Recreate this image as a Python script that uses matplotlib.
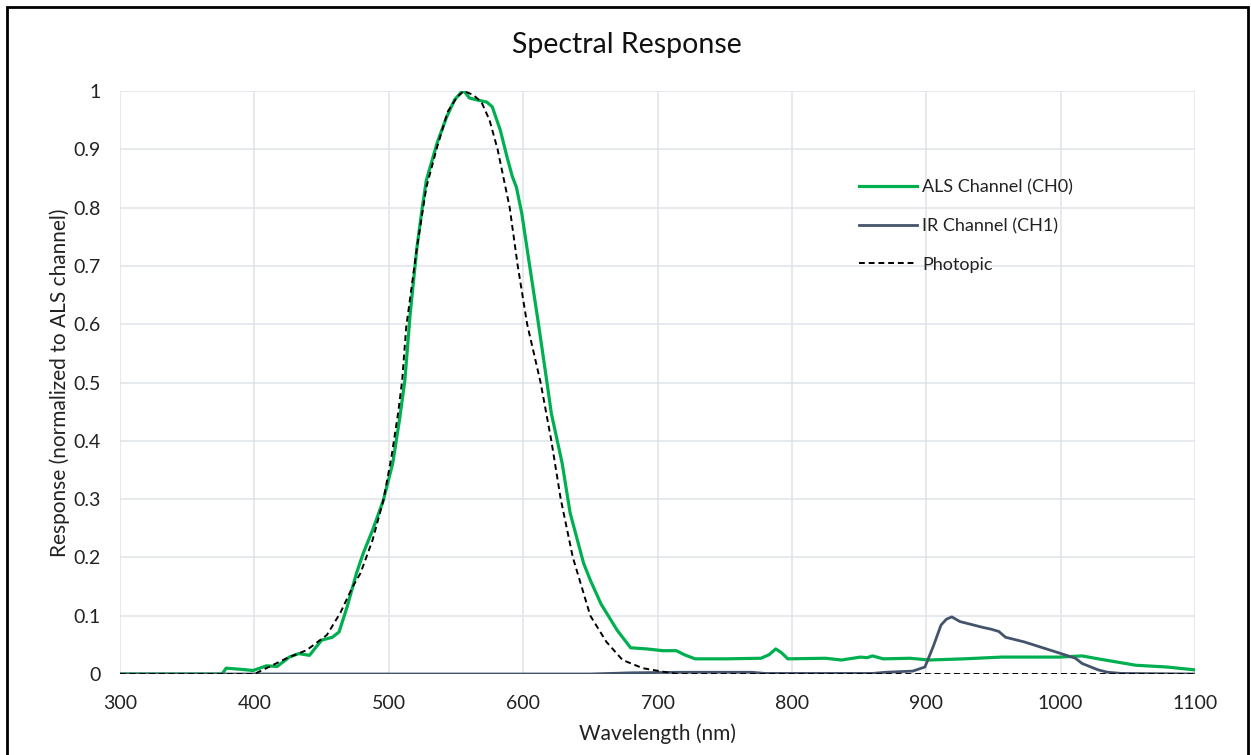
import matplotlib
matplotlib.use("Agg")
import matplotlib.pyplot as plt
from matplotlib.patches import Rectangle
from matplotlib.ticker import FuncFormatter

plt.rcParams['font.family'] = ['Lato', 'DejaVu Sans']

# ---- data ----
als_nm = [300, 376, 379, 390, 399, 409, 417, 426, 433, 441, 450, 458, 463, 469, 476, 481,
          488, 496, 503, 508, 512, 516, 521, 525, 528, 536, 543, 549, 554, 556, 560, 565,
          573, 577, 583, 588, 592, 595, 599, 605, 611, 617, 621, 629, 635, 645, 650, 658,
          670, 680, 692, 704, 714, 720, 728, 751, 777, 783, 788, 792, 797, 825, 837, 851,
          856, 860, 868, 888, 902, 928, 956, 999, 1016, 1028, 1056, 1079, 1100]
als_val = [0, 0, 0.010, 0.008, 0.006, 0.014, 0.013, 0.029, 0.035, 0.032, 0.058, 0.063, 0.072,
           0.115, 0.173, 0.207, 0.247, 0.298, 0.362, 0.436, 0.504, 0.619, 0.732, 0.801, 0.847,
           0.911, 0.955, 0.985, 0.998, 1.0, 0.988, 0.985, 0.981, 0.973, 0.933, 0.887, 0.853,
           0.835, 0.79, 0.698, 0.607, 0.512, 0.447, 0.362, 0.276, 0.190, 0.161, 0.120, 0.075,
           0.045, 0.043, 0.040, 0.040, 0.033, 0.026, 0.026, 0.027, 0.033, 0.043, 0.037, 0.026,
           0.027, 0.024, 0.029, 0.028, 0.031, 0.026, 0.027, 0.024, 0.026, 0.029, 0.029, 0.031,
           0.026, 0.015, 0.012, 0.007]

ir_nm = [300, 650, 680, 720, 770, 780, 860, 870, 890, 899, 905, 911, 915, 919, 925, 942,
         948, 954, 959, 973, 988, 999, 1011, 1016, 1028, 1035, 1045, 1100]
ir_val = [0, 0, 0.002, 0.003, 0.003, 0.001, 0.001, 0.003, 0.005, 0.012, 0.046, 0.084, 0.094,
          0.098, 0.090, 0.080, 0.077, 0.073, 0.063, 0.055, 0.044, 0.036, 0.027, 0.018, 0.007,
          0.003, 0.001, 0]

pho_nm = [300, 400, 409, 424, 439, 454, 464, 473, 479, 488, 496, 502, 507, 510, 513, 521,
          528, 536, 544, 551, 556, 563, 569, 575, 581, 590, 596, 603, 613, 621, 628, 637,
          650, 662, 674, 689, 704, 715, 1100]
pho_val = [0, 0, 0.010, 0.027, 0.041, 0.067, 0.105, 0.149, 0.173, 0.230, 0.298, 0.372, 0.448,
           0.504, 0.595, 0.732, 0.835, 0.904, 0.965, 0.99, 1.0, 0.993, 0.981, 0.95, 0.9, 0.8,
           0.7, 0.6, 0.5, 0.4, 0.3, 0.2, 0.1, 0.055, 0.024, 0.010, 0.004, 0, 0]

x_ticks = [300, 400, 500, 600, 700, 800, 900, 1000, 1100]
y_ticks = [0, 0.1, 0.2, 0.3, 0.4, 0.5, 0.6, 0.7, 0.8, 0.9, 1]

series_labels = ["ALS Channel (CH0)", "IR Channel (CH1)", "Photopic"]

# ---- figure ----
W, H = 1251, 755
fig = plt.figure(figsize=(W / 100, H / 100), dpi=100)
ax = fig.add_axes([120 / W, 1 - 674 / H, (1195 - 120) / W, (674 - 91) / H])

ax.plot(als_nm, als_val, color='#00B050', lw=2.3, label=series_labels[0], zorder=3)
ax.plot(ir_nm, ir_val, color='#44546A', lw=2.0, label=series_labels[1], zorder=4)
ax.plot(pho_nm, pho_val, color='black', lw=1.4, ls=(0, (3, 2)), label=series_labels[2], zorder=5)

ax.set_xlim(300, 1100)
ax.set_ylim(0, 1)
ax.set_xticks(x_ticks)
ax.set_yticks(y_ticks)
ax.yaxis.set_major_formatter(FuncFormatter(lambda v, p: f"{v:g}"))
ax.grid(True, color='#E1E5EA', lw=1.2, zorder=0)
ax.set_axisbelow(True)
for s in ax.spines.values():
    s.set_visible(False)
ax.tick_params(length=0, labelsize=14, colors='#222222')
ax.tick_params(axis='x', pad=15)
ax.tick_params(axis='y', pad=14)

ax.set_xlabel("Wavelength (nm)", fontsize=15, color='#222222', labelpad=8)
ax.set_ylabel("Response (normalized to ALS channel)", fontsize=15, color='#222222', labelpad=2)
fig.text(627 / W, 1 - 45 / H, "Spectral Response", ha='center', va='center', fontsize=20.5,
         color='#111111')

leg = ax.legend(loc='upper left', bbox_to_anchor=(843 / W, 1 - 163 / H),
                bbox_transform=fig.transFigure, frameon=False, fontsize=13,
                handlelength=3.2, handletextpad=0.3, labelspacing=1.25)
for t in leg.get_texts():
    t.set_color('#222222')

# figure border
fig.patches.append(Rectangle((7 / W, -0.05), (1248 - 7) / W, 0.05 + (748 / H),
                             transform=fig.transFigure, fill=False, lw=2, ec='black'))

fig.savefig("out.png", dpi=100)
